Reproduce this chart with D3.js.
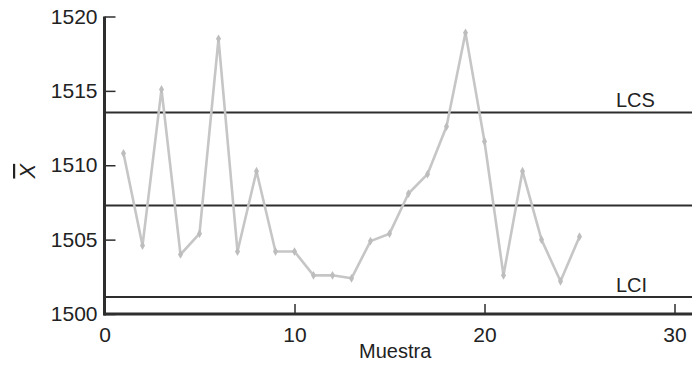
<!DOCTYPE html>
<html>
<head>
<meta charset="utf-8">
<script src="https://cdn.jsdelivr.net/npm/d3@7"></script>
<style>
  body { margin: 0; background: #fff; }
  text { font-family: "Liberation Sans", Arial, sans-serif; fill: #222; }
</style>
</head>
<body>
<script>
// sample means (x-bar) per sample
var muestras = d3.range(1, 26);
var medias = [1510.8, 1504.6, 1515.1, 1504.0, 1505.4, 1518.5, 1504.2, 1509.6, 1504.2, 1504.2,
              1502.6, 1502.6, 1502.4, 1504.9, 1505.4, 1508.1, 1509.4, 1512.6, 1518.9, 1511.6,
              1502.6, 1509.6, 1505.0, 1502.2, 1505.2];
var limites = [1513.55, 1507.3, 1501.15];
var limiteNombres = ["LCS", "", "LCI"];
var xTicks = [0, 10, 20, 30];
var yTicks = [1500, 1505, 1510, 1515, 1520];

var width = 692, height = 372;

var svg = d3.select("body").append("svg")
    .attr("width", width)
    .attr("height", height);

var x = d3.scaleLinear().domain([0, 31]).range([104.5, 693.5]);
var y = d3.scaleLinear().domain([1500, 1520]).range([314, 16.5]);

var ink = "#2e2e2e";

// control lines
svg.append("g").selectAll("line")
    .data(limites)
    .enter().append("line")
    .attr("x1", x(0)).attr("x2", width)
    .attr("y1", function(d) { return y(d); })
    .attr("y2", function(d) { return y(d); })
    .attr("stroke", ink)
    .attr("stroke-width", 2);

svg.append("g").selectAll("text")
    .data(limites)
    .enter().append("text")
    .attr("x", 616)
    .attr("y", function(d) { return y(d) - 5; })
    .attr("font-size", 20)
    .text(function(d, i) { return limiteNombres[i]; });

// data line
var line = d3.line()
    .x(function(d, i) { return x(muestras[i]); })
    .y(function(d) { return y(d); });

svg.append("path")
    .datum(medias)
    .attr("d", line)
    .attr("fill", "none")
    .attr("stroke", "#c6c6c6")
    .attr("stroke-width", 2.6)
    .attr("stroke-linejoin", "round");

svg.append("g").selectAll("path")
    .data(medias)
    .enter().append("path")
    .attr("d", d3.symbol().type(d3.symbolDiamond).size(22))
    .attr("transform", function(d, i) { return "translate(" + x(muestras[i]) + "," + y(d) + ")"; })
    .attr("fill", "#bdbdbd");

// axes
var xAxis = d3.axisBottom(x).tickValues(xTicks).tickFormat(d3.format("d"))
    .tickSize(-10).tickPadding(13).tickSizeOuter(0);
var gx = svg.append("g")
    .attr("transform", "translate(0," + y(1500) + ")")
    .call(xAxis);
gx.select(".domain").remove();
gx.append("line")
    .attr("x1", x(0) - 1).attr("x2", width)
    .attr("stroke", ink).attr("stroke-width", 3);
gx.selectAll(".tick line").attr("stroke", ink).attr("stroke-width", 1.5);
gx.selectAll(".tick text").attr("font-size", 21).attr("fill", "#222")
    .attr("font-family", "Liberation Sans, Arial, sans-serif");

var yAxis = d3.axisLeft(y).tickValues(yTicks).tickFormat(d3.format("d"))
    .tickSize(-11).tickPadding(18).tickSizeOuter(0);
var gy = svg.append("g")
    .attr("transform", "translate(" + x(0) + ",0)")
    .call(yAxis);
gy.select(".domain").remove();
gy.append("line")
    .attr("y1", y(1520)).attr("y2", y(1500) + 1.5)
    .attr("stroke", ink).attr("stroke-width", 3);
gy.selectAll(".tick line").attr("stroke", ink).attr("stroke-width", 1.5);
gy.selectAll(".tick text").attr("font-size", 21).attr("fill", "#222")
    .attr("font-family", "Liberation Sans, Arial, sans-serif")
    .attr("x", -7);

// axis titles
svg.append("text")
    .attr("x", x(15.3))
    .attr("y", 358)
    .attr("text-anchor", "middle")
    .attr("font-size", 20)
    .text("Muestra");

svg.append("text")
    .attr("transform", "translate(35," + y(1509.6) + ") rotate(-90)")
    .attr("text-anchor", "middle")
    .attr("font-size", 22)
    .attr("font-style", "italic")
    .style("text-decoration", "overline")
    .text("X");
</script>
</body>
</html>
